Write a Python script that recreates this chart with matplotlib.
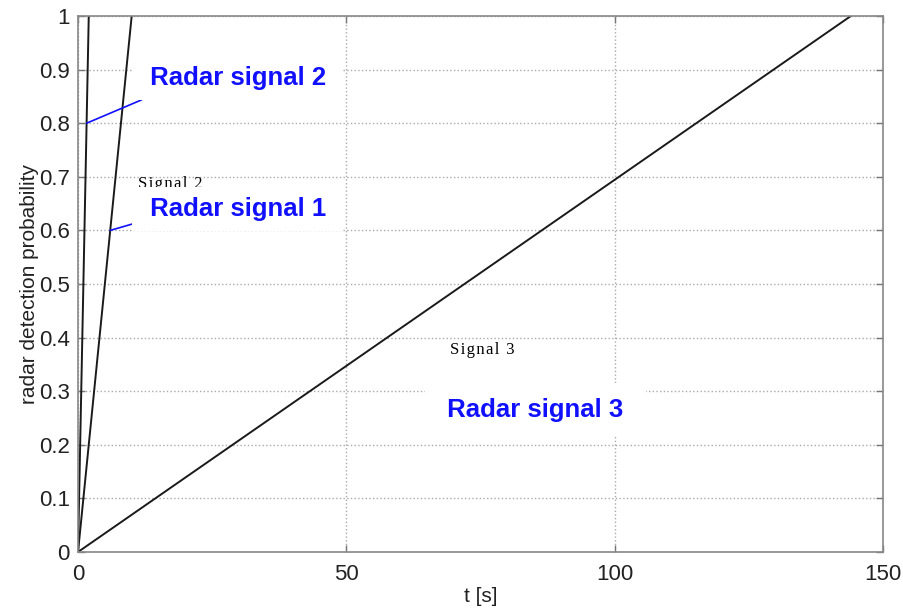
import numpy as np
import matplotlib
matplotlib.use("Agg")
import matplotlib.pyplot as plt

# detection probability rises linearly from 0 to 1 over each signal's ramp time
t_end = [2.0, 10.0, 144.0]          # seconds to reach P=1 for signals 1, 2, 3
p_start, p_end = 0.0, 1.0

xticks = [0, 50, 100, 150]
yticks = [0, 0.1, 0.2, 0.3, 0.4, 0.5, 0.6, 0.7, 0.8, 0.9, 1]
ytick_labels = ["0", "0.1", "0.2", "0.3", "0.4", "0.5", "0.6", "0.7", "0.8", "0.9", "1"]

plt.rcParams["font.family"] = ["Liberation Sans", "DejaVu Sans"]

fig = plt.figure(figsize=(9.04, 6.09), dpi=100)
ax = fig.add_axes([0.0863, 0.0936, 0.8905, 0.8801])

for te in t_end:
    ax.plot([0, te], [p_start, p_end], color="#1a1a1a", lw=1.4, zorder=2)

ax.set_xlim(0, 150)
ax.set_ylim(0, 1)
ax.set_xticks(xticks)
ax.set_yticks(yticks)
ax.set_yticklabels(ytick_labels)
ax.tick_params(direction="in", top=True, right=True, length=5, width=1,
               color="#777777", labelsize=16, labelcolor="#222222")
ax.tick_params(axis="y", pad=6)
ax.tick_params(axis="x", pad=9)
for s in ax.spines.values():
    s.set_color("#888888"); s.set_linewidth(1.2)
ax.grid(True, ls=":", color="#aaaaaa", lw=1.0)
ax.set_xlabel("t [s]", fontsize=15, color="#222222", labelpad=1)
ax.set_ylabel("radar detection probability", fontsize=15, color="#222222", labelpad=0)

# small serif labels, loosely letter-spaced (Signal 2 sits partly under the callout box)
serif = ["Liberation Serif", "DejaVu Serif"]
spaced = lambda s: "\u200a".join(s)
ax.text(17.1, 0.686, spaced("Signal 2"), family=serif, fontsize=12, ha="center", va="center")
ax.text(75.3, 0.377, spaced("Signal 3"), family=serif, fontsize=12, ha="center", va="center")

# blue callouts with white boxes
box = dict(boxstyle="square,pad=0.4", fc="white", ec="none")
blue = "#1010ff"
ax.annotate(" Radar signal 2 ", xy=(0.8 * t_end[0], 0.8), xytext=(29.8, 0.885),
            fontsize=18.5, fontweight="bold", color=blue, ha="center", va="center",
            bbox=box, arrowprops=dict(arrowstyle="-", color=blue, lw=1.2,
                                      relpos=(0.12, 0.0), shrinkA=0, shrinkB=0))
ax.annotate(" Radar signal 1 ", xy=(0.6 * t_end[1], 0.6), xytext=(29.8, 0.64),
            fontsize=18.5, fontweight="bold", color=blue, ha="center", va="center",
            bbox=box, arrowprops=dict(arrowstyle="-", color=blue, lw=1.2,
                                      relpos=(0.0, 0.0), shrinkA=0, shrinkB=0))
ax.text(85.2, 0.265, " Radar signal 3 ", fontsize=18.5, fontweight="bold", color=blue,
        ha="center", va="center", bbox=dict(boxstyle="square,pad=0.6", fc="white", ec="none"))

fig.savefig("out.png", dpi=100)
